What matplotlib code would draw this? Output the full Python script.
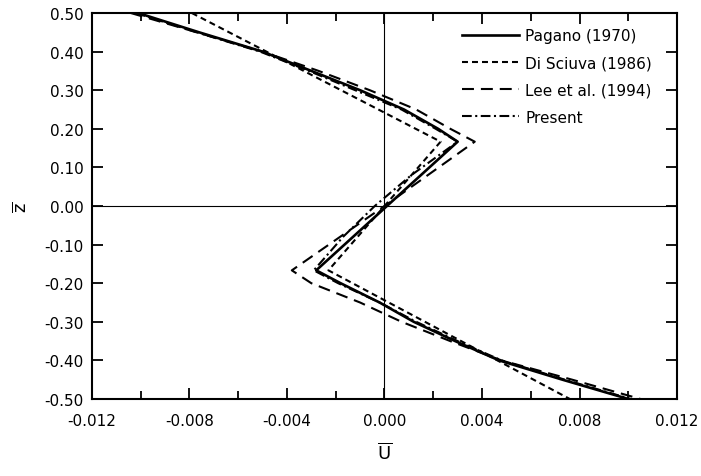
import numpy as np
import matplotlib
matplotlib.use('Agg')
import matplotlib.pyplot as plt
from matplotlib.ticker import MultipleLocator, FormatStrFormatter

# through-thickness in-plane displacement
z_pag = [0.5, 0.45, 0.4, 0.35, 0.3, 0.25, 0.2, 1/6, 0.0, -1/6, -0.2, -0.25, -0.3, -0.35, -0.4, -0.45, -0.5]
u_pag = [-0.0101, -0.0076, -0.0050, -0.0030, -0.0010, 0.0008, 0.0022, 0.0030, 0.0001,
         -0.0028, -0.0018, -0.0002, 0.0012, 0.0029, 0.0047, 0.0073, 0.0100]

z_dis = [0.5, 1/6, -1/6, -0.5]
u_dis = [-0.0079, 0.0023, -0.0023, 0.0076]

z_lee = [0.5, 0.45, 0.4, 0.35, 0.3, 0.25, 0.2, 1/6, 0.0, -1/6, -0.2, -0.25, -0.3, -0.35, -0.4, -0.45, -0.5]
u_lee = [-0.0104, -0.0077, -0.0050, -0.0027, -0.0006, 0.0013, 0.0027, 0.0037, 0.0000,
         -0.0038, -0.0030, -0.0010, 0.0007, 0.0027, 0.0048, 0.0077, 0.0105]

z_pre = [0.5, 0.45, 0.4, 0.35, 0.3, 0.25, 0.2, 1/6, 0.08, 0.0, -0.08, -1/6,
         -0.2, -0.25, -0.3, -0.35, -0.4, -0.45, -0.5]
u_pre = [-0.0102, -0.0077, -0.0051, -0.0031, -0.0012, 0.0007, 0.0021, 0.0030, 0.0011, -0.0004,
         -0.0017, -0.0029, -0.0019, -0.0002, 0.0013, 0.0030, 0.0048, 0.0074, 0.0101]

labels = ['Pagano (1970)', 'Di Sciuva (1986)', 'Lee et al. (1994)', 'Present']

plt.rcParams['font.family'] = ['DejaVu Sans']
plt.rcParams['lines.scale_dashes'] = False
plt.rcParams['axes.unicode_minus'] = False

fig = plt.figure(figsize=(7.01, 4.77), dpi=100)
ax = fig.add_axes([0.131, 0.1614, 0.835, 0.8092])

# reference lines through zero
ax.axhline(0, color='black', lw=0.8)
ax.axvline(0, color='black', lw=0.8)

ax.plot(u_pag, z_pag, color='black', lw=1.9, label=labels[0])
ax.plot(u_dis, z_dis, color='black', lw=1.5, dashes=(4.3, 2.9), label=labels[1])
ax.plot(u_lee, z_lee, color='black', lw=1.5, dashes=(8.6, 5.0), label=labels[2])
ax.plot(u_pre, z_pre, color='black', lw=1.5, dashes=(7.0, 2.5, 1.5, 2.5), label=labels[3])

ax.set_xlim(-0.012, 0.012)
ax.set_ylim(-0.5, 0.5)
ax.xaxis.set_major_locator(MultipleLocator(0.004))
ax.xaxis.set_minor_locator(MultipleLocator(0.002))
ax.yaxis.set_major_locator(MultipleLocator(0.1))
ax.xaxis.set_major_formatter(FormatStrFormatter('%.3f'))
ax.yaxis.set_major_formatter(FormatStrFormatter('%.2f'))
ax.tick_params(which='both', direction='in', top=True, right=True, width=1.3, labelsize=11)
ax.tick_params(axis='x', which='major', length=8, pad=10)
ax.tick_params(axis='y', which='major', length=8, pad=6)
ax.tick_params(which='minor', length=6)
for sp in ax.spines.values():
    sp.set_linewidth(1.5)

ax.set_xlabel(r'$\overline{\mathrm{U}}$', fontsize=13, labelpad=10)
ax.set_ylabel(r'$\overline{\mathrm{z}}$', fontsize=13, labelpad=10)

ax.legend(loc='upper left', bbox_to_anchor=(462/701, 1 - 29/477), bbox_transform=fig.transFigure,
          frameon=False, borderpad=0, borderaxespad=0, handlelength=3.7, handletextpad=0.45,
          labelspacing=0.8, fontsize=11)

fig.savefig('out.png', dpi=100)
